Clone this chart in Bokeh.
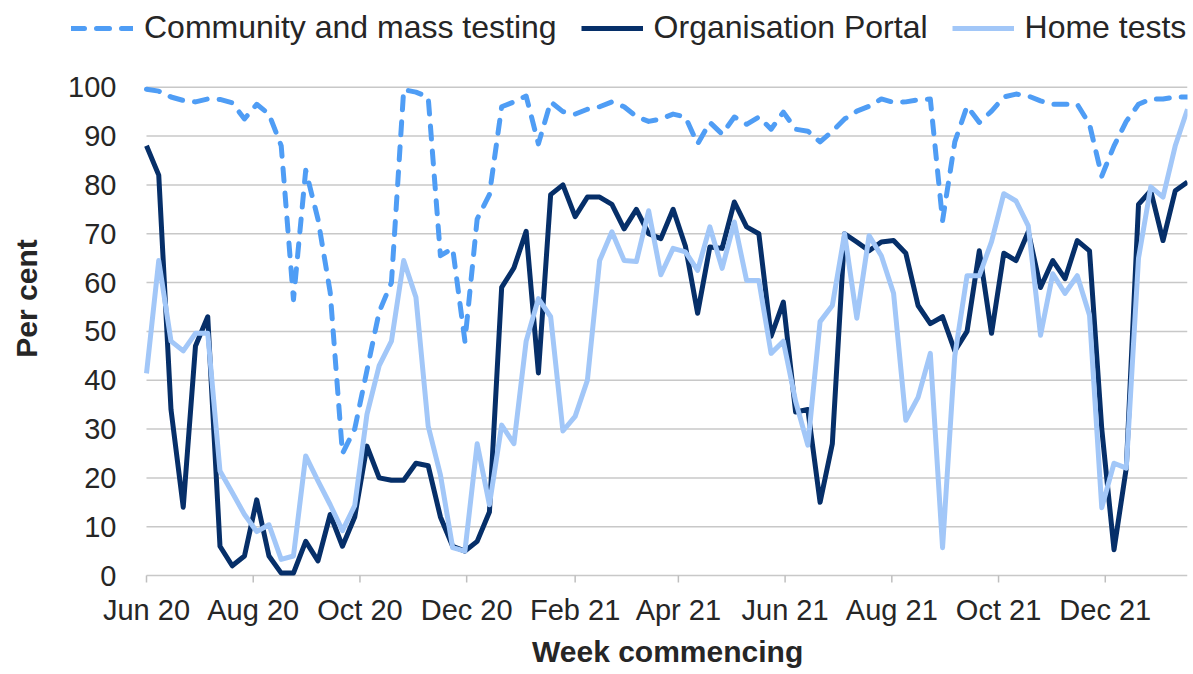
import pandas as pd
from bokeh.plotting import figure
from bokeh.models import (Range1d, FixedTicker, DatetimeTickFormatter, Legend,
                          LegendItem, ColumnDataSource, Title)
from bokeh.core.properties import value
from bokeh.embed import file_html
from bokeh.resources import INLINE

# ---------------- data ----------------
first_week = "2020-06-01"

community = [99.6, 99.2, 98, 97.3, 97, 97.6, 97.5, 96.8, 93.5, 96.5,
             94.5, 88, 56.5, 83, 73, 58, 25, 30, 42, 54,
             60, 99.5, 99, 98, 65.5, 67, 48, 73, 78, 96,
             97, 98.2, 88.4, 97, 95, 94.5, 95.5, 96, 97, 96,
             94, 93, 93.5, 94.5, 93.9, 88.4, 92.8, 90.4, 93.9, 92.4,
             93.9, 91.4, 94.9, 91.4, 91, 88.8, 91, 93.5, 95.1, 96.1,
             97.6, 96.9, 97, 97.4, 97.6, 72.7, 88.8, 96.1, 92.8, 95.1,
             98, 98.6, 98.2, 97.2, 96.5, 96.5, 96.5, 92.4, 81.8, 88,
             93, 96.5, 97.6, 97.6, 98, 98]

portal = [88, 82, 34, 14, 47, 53, 6, 2, 4, 15.5,
          4, 0.5, 0.5, 7, 3, 12.5, 6, 12, 26.5, 20,
          19.5, 19.5, 23, 22.5, 12, 6, 5, 7, 13, 59,
          63, 70.5, 41.5, 78, 80, 73.5, 77.5, 77.5, 76, 71,
          75, 70, 69, 75, 67.5, 53.7, 67.3, 67, 76.5, 71.4,
          70, 49, 56, 33.5, 34, 15, 27, 70, 68.3, 66.5,
          68.3, 68.6, 66, 55.3, 51.6, 53, 46, 50, 66.5, 49.6,
          66, 64.5, 70.4, 59, 64.5, 60.8, 68.6, 66.5, 30, 5.3,
          22, 76, 78.8, 68.6, 78.8, 80.6]

home = [41.4, 64.5, 48, 46, 49.6, 49.6, 21.4, 17, 12.5, 9,
        10.4, 3.3, 4, 24.5, 19.4, 14.5, 9.2, 14.3, 33, 43,
        48, 64.5, 57, 30.6, 20.6, 5.7, 5, 27, 14.5, 30.8,
        27, 48, 56.7, 53, 29.6, 32.6, 40, 64.5, 70.4, 64.5,
        64.3, 74.7, 61.6, 67, 66.3, 62.5, 71.4, 62.9, 72.4, 60.4,
        60.4, 45.5, 48, 35.7, 26.7, 52, 55.3, 70, 52.7, 69.6,
        65.5, 57.8, 31.8, 36.5, 45.5, 5.7, 45, 61.4, 61.4, 68.4,
        78.2, 76.7, 71.6, 49.2, 61.8, 57.8, 61.4, 53.3, 13.9, 23,
        22, 65, 79.6, 77.5, 88, 95.5]

series_names = ["Community and mass testing", "Organisation Portal", "Home tests"]
series_cols = ["community", "portal", "home"]
tick_months = ["2020-06-01", "2020-08-01", "2020-10-01", "2020-12-01", "2021-02-01",
               "2021-04-01", "2021-06-01", "2021-08-01", "2021-10-01", "2021-12-01"]
tick_labels = ["Jun 20", "Aug 20", "Oct 20", "Dec 20", "Feb 21",
               "Apr 21", "Jun 21", "Aug 21", "Oct 21", "Dec 21"]
y_ticks = [0, 10, 20, 30, 40, 50, 60, 70, 80, 90, 100]

# ---------------- styles / layout constants ----------------
FONT = "Liberation Sans"
TXT = "#262626"
GRID = "#c8c8c8"
AXIS = "#bfbfbf"
styles = [dict(line_color="#4f9df5", line_width=5, line_dash="13 12",
               line_cap="round", line_join="round"),
          dict(line_color="#062f69", line_width=5, line_join="round"),
          dict(line_color="#a2c7f8", line_width=5, line_join="round")]

W, H = 1190, 672
FRAME_L, FRAME_R = 59, 1187      # canvas px of the drawing area
FRAME_T, FRAME_B = 7, 591
PLOT_L = 146                      # canvas x of the first week
PLOT_T, PLOT_B = 87, 577          # canvas y of the values 100 and 0
TICK_LEN = 7

weeks = pd.date_range(first_week, periods=len(community), freq="7D")
src = ColumnDataSource(dict(week=weeks, community=community, portal=portal, home=home))

# the drawing area also holds the legend and the value labels,
# so the ranges reach beyond the data area
span_days = (weeks[-1] - weeks[0]).days
px_per_day = (FRAME_R - PLOT_L) / span_days
x_start = weeks[0] - pd.Timedelta(days=(PLOT_L - FRAME_L) / px_per_day)
px_per_unit = (PLOT_B - PLOT_T) / (y_ticks[-1] - y_ticks[0])
y_top = y_ticks[-1] + (PLOT_T - FRAME_T) / px_per_unit
y_bot = y_ticks[0] - (FRAME_B - PLOT_B) / px_per_unit

p = figure(width=W, height=H, x_axis_type="datetime",
           x_range=Range1d(x_start, weeks[-1]), y_range=Range1d(y_bot, y_top),
           output_backend="svg", toolbar_location=None,
           min_border_left=FRAME_L, min_border_right=W - FRAME_R,
           min_border_top=FRAME_T, min_border_bottom=H - FRAME_B)
p.outline_line_color = None
p.background_fill_color = "white"
p.border_fill_color = "white"
p.xgrid.grid_line_color = None
p.ygrid.grid_line_color = None

# horizontal gridlines across the data area only
n = len(y_ticks)
p.segment(x0=[weeks[0]] * n, x1=[weeks[-1]] * n, y0=y_ticks, y1=y_ticks,
          line_color=GRID, line_width=1.5)

# x-axis tick marks below the zero line
tick_dates = [pd.Timestamp(t) for t in tick_months]
tick_depth = TICK_LEN / px_per_unit
p.segment(x0=tick_dates, x1=tick_dates, y0=[y_ticks[0]] * len(tick_dates),
          y1=[y_ticks[0] - tick_depth] * len(tick_dates),
          line_color=AXIS, line_width=1.5)

# value labels at the left of the data area
p.text(x=[weeks[0]] * n, y=y_ticks, text=[str(v) for v in y_ticks],
       x_offset=-30, text_align="right", text_baseline="middle",
       text_font=value(FONT), text_font_size="29px", text_color=TXT)

renderers = []
for col, st in zip(series_cols, styles):
    renderers.append(p.line("week", col, source=src, **st))

# y axis: carries only its title
p.yaxis.ticker = FixedTicker(ticks=[])
p.yaxis.axis_line_color = None
p.yaxis.major_tick_line_color = None
p.yaxis.minor_tick_line_color = None
p.yaxis.major_tick_out = 0
p.yaxis.major_tick_in = 0
p.yaxis.major_label_standoff = 0
p.yaxis.axis_label = "Per cent"
p.yaxis.axis_label_text_font = FONT
p.yaxis.axis_label_text_font_size = "30px"
p.yaxis.axis_label_text_font_style = "bold"
p.yaxis.axis_label_text_color = TXT
p.yaxis.axis_label_standoff = 17

# x axis: month labels only
tick_ms = [t.value / 1e6 for t in tick_dates]
p.xaxis.ticker = FixedTicker(ticks=tick_ms)
p.xaxis.formatter = DatetimeTickFormatter(days="%b %y", months="%b %y", years="%b %y")
p.xaxis.major_label_overrides = {ms: lab for ms, lab in zip(tick_ms, tick_labels)}
p.xaxis.axis_line_color = None
p.xaxis.major_tick_line_color = None
p.xaxis.major_tick_out = 0
p.xaxis.major_tick_in = 0
p.xaxis.minor_tick_line_color = None
p.xaxis.major_label_standoff = 4
p.xaxis.major_label_text_font = FONT
p.xaxis.major_label_text_font_size = "29px"
p.xaxis.major_label_text_color = TXT

# x axis title, centred under the data area
title_w = 270
title_offset = (PLOT_L + FRAME_R) / 2 - FRAME_L - title_w / 2
p.add_layout(Title(text="Week commencing", align="left", offset=title_offset,
                   text_font=FONT, text_font_size="30px", text_font_style="bold",
                   text_color=TXT, standoff=9), "below")

# legend inside the top strip of the drawing area
legend = Legend(items=[LegendItem(label=nm, renderers=[r])
                       for nm, r in zip(series_names, renderers)],
                orientation="horizontal", location=(12, FRAME_B - 48),
                label_text_font=FONT, label_text_font_size="32px",
                label_text_color=TXT, glyph_width=62, glyph_height=36,
                label_standoff=11, spacing=24, padding=0, margin=0,
                border_line_color=None, background_fill_alpha=0)
p.add_layout(legend, "center")

open("out.html", "w").write(file_html(p, INLINE))
